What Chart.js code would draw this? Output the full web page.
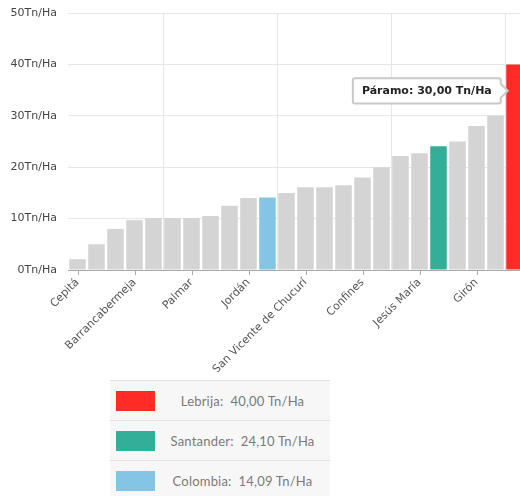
<!DOCTYPE html>
<html>
<head>
<meta charset="utf-8">
<script src="https://cdn.jsdelivr.net/npm/chart.js@4.4.1/dist/chart.umd.min.js"></script>
<style>
  html, body { margin: 0; padding: 0; background: #fff; width: 520px; height: 496px; overflow: hidden; }
  #wrap { position: absolute; left: 0; top: 0; width: 524px; height: 372px; }
  #legend { position: absolute; left: 110px; top: 380px; width: 220px; font-family: Lato, sans-serif; }
  .row { height: 40px; background: #f7f7f7; border-top: 1px solid #e2e2e2; display: flex; align-items: center; box-sizing: border-box; }
  .sw { width: 39px; height: 20px; margin-left: 6px; flex: none; }
  .txt { flex: 1; text-align: center; font-size: 13px; color: #7a7a7a; letter-spacing: 0.2px; }
</style>
</head>
<body>
<div id="wrap"><canvas id="myChart"></canvas></div>
<div id="legend"></div>
<script>
const municipios = ['Cepitá', 'Los Santos', 'Zapatoca', 'Barrancabermeja', 'Curití', 'Pinchote',
    'Palmar', 'Villanueva', 'Aratoca', 'Jordán', 'Colombia', 'Mogotes',
    'San Vicente de Chucurí', 'Socorro', 'Barichara', 'Confines', 'Guapotá', 'Simacota',
    'Jesús María', 'Santander', 'Piedecuesta', 'Girón', 'Páramo', 'Lebrija'];
const rendimiento = [2.1, 5.0, 8.0, 9.7, 10.1, 10.1, 10.1, 10.5, 12.5, 14.0, 14.09, 15.0,
    16.1, 16.1, 16.5, 18.0, 20.0, 22.2, 22.7, 24.1, 25.0, 28.0, 30.0, 40.0];
const destacados = { 'Lebrija': '#ff2b27', 'Santander': '#33ae98', 'Colombia': '#84c4e4' };
const yTicks = [0, 10, 20, 30, 40, 50];
const tooltipIndex = 22;

const fmt = v => v.toFixed(2).replace('.', ',') + ' Tn/Ha';
const barColors = municipios.map(m => destacados[m] || '#d4d4d4');

// legend table
const legend = document.getElementById('legend');
Object.keys(destacados).forEach(name => {
    const i = municipios.indexOf(name);
    const row = document.createElement('div');
    row.className = 'row';
    row.innerHTML = '<div class="sw" style="background:' + destacados[name] + '"></div>' +
        '<div class="txt">' + name + ':&nbsp; ' + fmt(rendimiento[i]) + '</div>';
    legend.appendChild(row);
});

Chart.Tooltip.positioners.lado = function (elements) {
    if (!elements.length) return false;
    const el = elements[0].element;
    return { x: el.x + el.width / 2 + 4, y: el.y - 25 };
};

const tickMarks = {
    id: 'tickMarks',
    afterDraw(chart) {
        const x = chart.scales.x;
        const c = chart.ctx;
        c.save();
        c.strokeStyle = '#aaaaaa';
        c.lineWidth = 1;
        x.ticks.forEach((t, i) => {
            const px = Math.round(x.getPixelForTick(i)) + 0.5;
            c.beginPath();
            c.moveTo(px, x.top);
            c.lineTo(px, x.top + 5);
            c.stroke();
        });
        c.restore();
    }
};

const ctx = document.getElementById('myChart').getContext('2d');
const myChart = new Chart(ctx, {
    type: 'bar',
    data: {
        labels: municipios,
        datasets: [{
            data: rendimiento,
            backgroundColor: barColors,
            hoverBackgroundColor: barColors,
            borderWidth: 0,
            barPercentage: 0.87,
            categoryPercentage: 1
        }]
    },
    options: {
        responsive: true,
        maintainAspectRatio: false,
        animation: false,
        events: [],
        layout: { padding: { top: 13, left: 0, right: 0, bottom: 0 } },
        plugins: {
            legend: { display: false },
            tooltip: {
                enabled: true,
                position: 'lado',
                xAlign: 'right',
                yAlign: 'center',
                backgroundColor: '#ffffff',
                borderColor: '#c9c9c9',
                borderWidth: 2,
                cornerRadius: 2,
                caretSize: 7,
                caretPadding: 0,
                displayColors: false,
                padding: { top: 6, bottom: 6, left: 9, right: 9 },
                bodyColor: '#222',
                bodyFont: { family: 'DejaVu Sans', size: 11, weight: 'bold' },
                callbacks: {
                    title: () => '',
                    label: c => c.label + ': ' + fmt(c.raw)
                }
            }
        },
        scales: {
            x: {
                grid: { color: '#e6e6e6', offset: true, drawTicks: false },
                border: { color: '#a9a9a9' },
                ticks: {
                    autoSkip: true,
                    maxTicksLimit: 8,
                    minRotation: 45,
                    maxRotation: 45,
                    padding: 6,
                    color: '#555',
                    font: { family: 'DejaVu Sans', size: 11 }
                },
                afterFit: s => { s.height = 102; s.paddingLeft = 0; s.paddingRight = 0; }
            },
            y: {
                min: 0,
                max: 50,
                afterBuildTicks: s => { s.ticks = yTicks.map(v => ({ value: v })); },
                grid: { color: '#e6e6e6', drawTicks: false },
                border: { display: false },
                ticks: {
                    padding: 11,
                    color: '#444',
                    font: { family: 'DejaVu Sans', size: 11 },
                    callback: v => v + 'Tn/Ha'
                },
                afterFit: s => { s.width = 68; s.paddingTop = 0; s.paddingBottom = 0; }
            }
        }
    },
    plugins: [tickMarks]
});

myChart.tooltip.setActiveElements([{ datasetIndex: 0, index: tooltipIndex }], { x: 0, y: 0 });
myChart.update();
</script>
</body>
</html>
